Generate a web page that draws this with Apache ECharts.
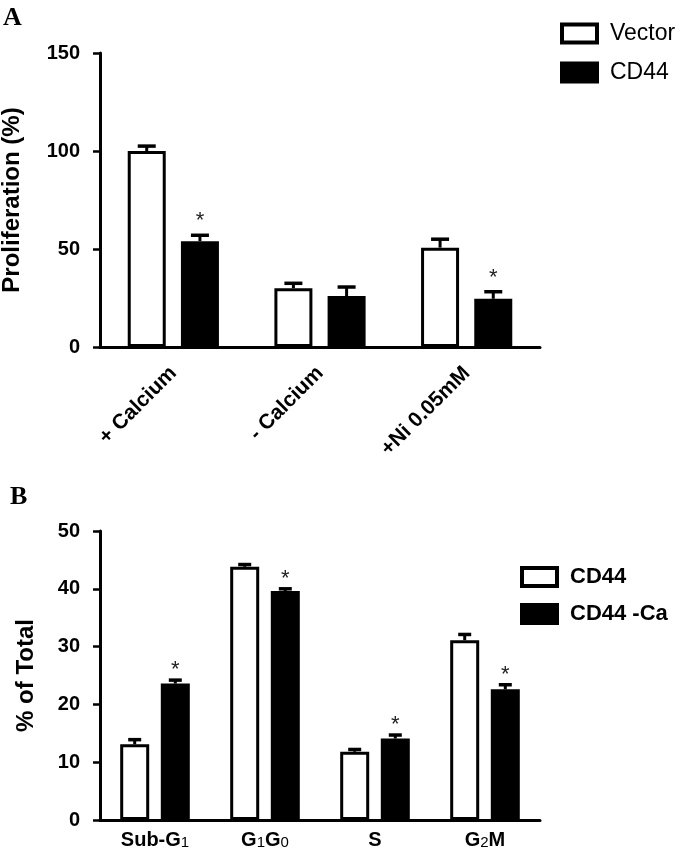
<!DOCTYPE html>
<html>
<head>
<meta charset="utf-8">
<script src="https://cdn.jsdelivr.net/npm/echarts@6/dist/echarts.min.js"></script>
<style>html,body{margin:0;padding:0;background:#fff;}#c{width:683px;height:855px;}</style>
</head>
<body>
<div id="c"></div>
<script>
// ---- Panel A data ----
const catsA = ['+ Calcium', '- Calcium', '+Ni 0.05mM'];
const vectorA = [100, 30, 50.7];
const vectorErrA = [2.5, 2.5, 4.3];
const cd44A = [54, 26, 24.6];
const cd44ErrA = [3, 4.6, 3.6];
const starsA = [1, 0, 1];
const ticksA = [0, 50, 100, 150];

// ---- Panel B data ----
const catsB = ['Sub-G1', 'G1G0', 'S', 'G2M'];
const cd44B = [13.1, 43.8, 11.8, 31.1];
const cd44ErrB = [0.8, 0.4, 0.4, 1.0];
const cd44CaB = [23.6, 39.6, 14.1, 22.6];
const cd44CaErrB = [0.6, 0.4, 0.6, 0.8];
const starsB = [1, 1, 1, 1];
const ticksB = [0, 10, 20, 30, 40, 50];

const FONT = "'Liberation Sans', Arial, Helvetica, sans-serif";

function errSeries(name, xi, vals, errs, stars, offset, capW, starLift) {
  return {
    type: 'custom', name: name, xAxisIndex: xi, yAxisIndex: xi, z: 5,
    silent: true, clip: false,
    data: vals.map((v, i) => [i, v, errs[i], stars ? stars[i] : 0]),
    renderItem: function (params, api) {
      const i = api.value(0), v = api.value(1), e = api.value(2), s = api.value(3);
      const b = api.coord([i, v]);
      const t = api.coord([i, v + e]);
      const x = b[0] + offset;
      const children = [
        { type: 'line', shape: { x1: x, y1: b[1], x2: x, y2: t[1] }, style: { stroke: '#000', lineWidth: 3 } },
        { type: 'line', shape: { x1: x - capW / 2, y1: t[1], x2: x + capW / 2, y2: t[1] }, style: { stroke: '#000', lineWidth: 3.5 } }
      ];
      if (s) {
        children.push({ type: 'text', style: { text: '*', x: x, y: t[1] - starLift, textAlign: 'center', textVerticalAlign: 'middle', fontSize: 22, fontFamily: FONT, fill: '#222' } });
      }
      return { type: 'group', children: children };
    }
  };
}

const barStyle = (fill) => ({ color: fill, borderColor: '#000', borderWidth: 3 });

const option = {
  animation: false,
  backgroundColor: '#fff',
  title: [
    { text: 'A', left: 3, top: 5, padding: 0, textStyle: { fontFamily: "'Liberation Serif', 'Times New Roman', serif", fontWeight: 'bold', fontSize: 26, color: '#000' } },
    { text: 'B', left: 10, top: 484, padding: 0, textStyle: { fontFamily: "'Liberation Serif', 'Times New Roman', serif", fontWeight: 'bold', fontSize: 26, color: '#000' } }
  ],
  legend: [
    { data: ['Vector', 'CD44'], orient: 'vertical', left: 555, top: 17, itemWidth: 35, itemHeight: 18, itemGap: 16, icon: 'rect',
      itemStyle: { borderColor: '#000', borderWidth: 4 },
      textStyle: { fontFamily: FONT, fontSize: 23, color: '#000', padding: [0, 0, 0, 8] } },
    { data: ['CD44 ', 'CD44 -Ca'], orient: 'vertical', left: 515, top: 561, itemWidth: 35, itemHeight: 18, itemGap: 15, icon: 'rect',
      itemStyle: { borderColor: '#000', borderWidth: 4 },
      formatter: n => n.trim(),
      textStyle: { fontFamily: FONT, fontSize: 22, fontWeight: 'bold', color: '#000', padding: [0, 0, 0, 8] } }
  ],
  grid: [
    { left: 100, top: 53, width: 440, height: 294, outerBoundsMode: 'none', containLabel: false },
    { left: 100, top: 531, width: 440, height: 289, outerBoundsMode: 'none', containLabel: false }
  ],
  xAxis: [
    { type: 'category', gridIndex: 0, data: catsA,
      axisLine: { lineStyle: { color: '#000', width: 3 } },
      axisTick: { alignWithLabel: true, length: 6, lineStyle: { color: '#000', width: 2.5 } },
      axisLabel: { interval: 0, hideOverlap: false, rotate: 45, margin: 23, fontFamily: FONT, fontSize: 21, fontWeight: 'bold', color: '#000' } },
    { type: 'category', gridIndex: 1, data: catsB,
      axisLine: { lineStyle: { color: '#000', width: 3 } },
      axisTick: { alignWithLabel: true, length: 6, lineStyle: { color: '#000', width: 2.5 } },
      axisLabel: { interval: 0, hideOverlap: false, margin: 10, fontFamily: FONT, fontSize: 20, fontWeight: 'bold', color: '#000',
        formatter: v => v.replace(/(\d)/g, '{s|$1}'),
        rich: { s: { fontFamily: FONT, fontSize: 15, fontWeight: 'normal', color: '#000', verticalAlign: 'bottom' } } } }
  ],
  yAxis: [
    { type: 'value', gridIndex: 0, min: ticksA[0], max: ticksA[ticksA.length - 1], interval: 50,
      name: 'Proliferation (%)', nameLocation: 'middle', nameGap: 76,
      nameTextStyle: { fontFamily: FONT, fontSize: 24, fontWeight: 'bold', color: '#000' },
      axisLine: { show: true, lineStyle: { color: '#000', width: 3 } },
      axisTick: { show: true, length: 7, lineStyle: { color: '#000', width: 2.5 } },
      splitLine: { show: false },
      axisLabel: { margin: 20, fontFamily: FONT, fontSize: 20, fontWeight: 'bold', color: '#000' } },
    { type: 'value', gridIndex: 1, min: ticksB[0], max: ticksB[ticksB.length - 1], interval: 10,
      name: '% of Total', nameLocation: 'middle', nameGap: 62,
      nameTextStyle: { fontFamily: FONT, fontSize: 24, fontWeight: 'bold', color: '#000' },
      axisLine: { show: true, lineStyle: { color: '#000', width: 3 } },
      axisTick: { show: true, length: 7, lineStyle: { color: '#000', width: 2.5 } },
      splitLine: { show: false },
      axisLabel: { margin: 20, fontFamily: FONT, fontSize: 20, fontWeight: 'bold', color: '#000' } }
  ],
  series: [
    { name: 'Vector', type: 'bar', xAxisIndex: 0, yAxisIndex: 0, data: vectorA, barWidth: 38, barGap: '40%', itemStyle: barStyle('#fff') },
    { name: 'CD44', type: 'bar', xAxisIndex: 0, yAxisIndex: 0, data: cd44A, barWidth: 38, barGap: '40%', itemStyle: barStyle('#000') },
    errSeries('errVector', 0, vectorA, vectorErrA, null, -26.6, 18, 0),
    errSeries('errCD44', 0, cd44A, cd44ErrA, starsA, 26.6, 18, 14),
    { name: 'CD44 ', type: 'bar', xAxisIndex: 1, yAxisIndex: 1, data: cd44B, barWidth: 29, barGap: '40%', itemStyle: barStyle('#fff') },
    { name: 'CD44 -Ca', type: 'bar', xAxisIndex: 1, yAxisIndex: 1, data: cd44CaB, barWidth: 29, barGap: '40%', itemStyle: barStyle('#000') },
    errSeries('errCD44B', 1, cd44B, cd44ErrB, null, -20.3, 13, 0),
    errSeries('errCD44CaB', 1, cd44CaB, cd44CaErrB, starsB, 20.3, 13, 10)
  ]
};

const chart = echarts.init(document.getElementById('c'), null, { renderer: 'canvas' });
chart.setOption(option);
</script>
</body>
</html>
